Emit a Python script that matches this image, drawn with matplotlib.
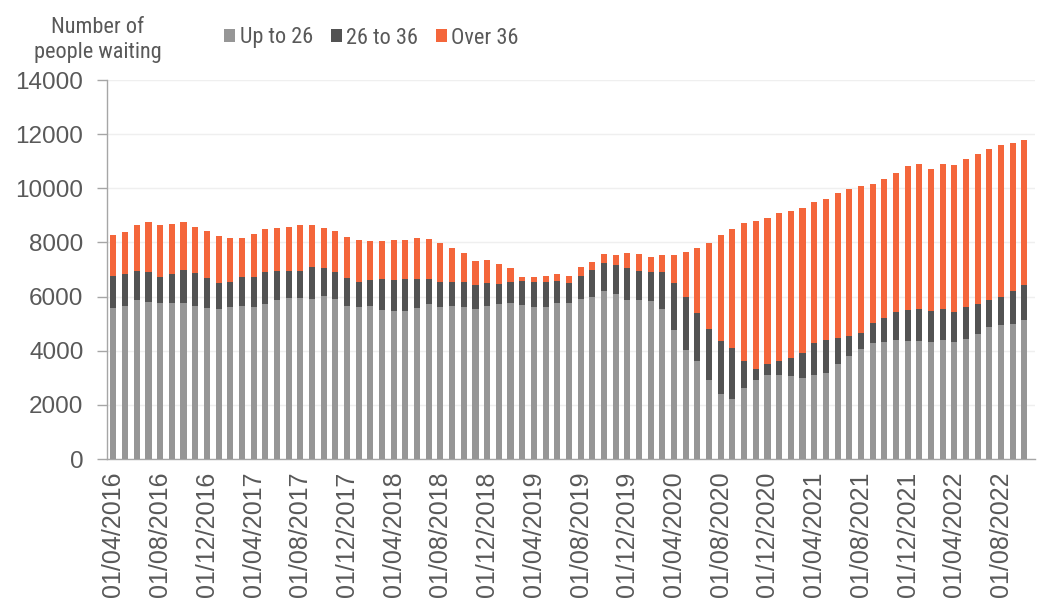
import numpy as np
import pandas as pd
import matplotlib
matplotlib.use('Agg')
import matplotlib.pyplot as plt
from matplotlib.patches import Patch

# monthly snapshots, April 2016 - October 2022
months = pd.date_range('2016-04-01', periods=79, freq='MS')

up_to_26 = [5570, 5650, 5860, 5800, 5760, 5770, 5770, 5670, 5560, 5540,
            5610, 5640, 5610, 5720, 5860, 5940, 5930, 5910, 6020, 5910,
            5640, 5610, 5640, 5520, 5460, 5460, 5570, 5720, 5610, 5650,
            5600, 5540, 5640, 5720, 5760, 5680, 5600, 5600, 5760, 5750,
            5910, 6000, 6200, 6090, 5870, 5870, 5830, 5550, 4760, 4030,
            3610, 2910, 2400, 2220, 2610, 2920, 3100, 3100, 3060, 2980,
            3100, 3170, 3500, 3800, 4060, 4290, 4330, 4410, 4350, 4350,
            4320, 4390, 4320, 4430, 4610, 4870, 4940, 4980, 5130]
from_26_to_36 = [1180, 1180, 1090, 1110, 960, 1060, 1210, 1210, 1130, 960,
                 940, 1090, 1110, 1200, 1090, 1000, 1020, 1180, 1040, 1000,
                 1060, 940, 960, 1130, 1150, 1200, 1090, 940, 940, 900,
                 940, 880, 880, 750, 790, 900, 950, 950, 830, 760,
                 860, 990, 1050, 1090, 1200, 1070, 1070, 1370, 1750, 1960,
                 1790, 1910, 1960, 1890, 1020, 410, 420, 520, 680, 950,
                 1180, 1230, 970, 730, 600, 720, 890, 1020, 1170, 1200,
                 1150, 1160, 1100, 1200, 1110, 1000, 1040, 1230, 1310]
over_36 = [1530, 1570, 1690, 1840, 1940, 1840, 1780, 1680, 1750, 1740,
           1620, 1440, 1580, 1580, 1590, 1640, 1680, 1540, 1480, 1520,
           1490, 1530, 1450, 1420, 1470, 1440, 1490, 1480, 1430, 1230,
           1070, 900, 830, 720, 520, 150, 190, 210, 230, 250,
           320, 300, 310, 370, 530, 650, 580, 630, 1040, 1640,
           2390, 3160, 3900, 4370, 5080, 5460, 5390, 5450, 5430, 5340,
           5230, 5200, 5340, 5450, 5440, 5140, 5140, 5150, 5290, 5350,
           5250, 5330, 5440, 5460, 5550, 5570, 5610, 5480, 5330]

series_names = ['Up to 26', '26 to 36', 'Over 36']
colors = ['#969696', '#535353', '#f4663b']
text_color = '#595959'
narrow = ['Roboto Condensed', 'Liberation Sans', 'DejaVu Sans']

plt.rcParams['font.family'] = ['Liberation Sans', 'DejaVu Sans']

fig = plt.figure(figsize=(10.37, 6.09), dpi=100)
ax = fig.add_axes([0.1032, 0.2463, 0.8948, 0.6223])

x = np.arange(len(months))
a = np.array(up_to_26)
b = np.array(from_26_to_36)
c = np.array(over_36)
w = 0.52
ax.bar(x, a, width=w, color=colors[0], linewidth=0, zorder=3)
ax.bar(x, b, width=w, bottom=a, color=colors[1], linewidth=0, zorder=3)
ax.bar(x, c, width=w, bottom=a + b, color=colors[2], linewidth=0, zorder=3)

ax.set_ylim(0, 14000)
ax.set_xlim(-0.55, 78.9)
ax.set_yticks(np.arange(0, 14001, 2000))
ax.yaxis.grid(True, color='#efefef', linewidth=1, zorder=0)
ax.set_axisbelow(True)

ticks = x[::4]
ax.set_xticks(ticks)
ax.set_xticklabels([months[i].strftime('%d/%m/%Y') for i in ticks],
                   rotation=90, fontsize=18, color=text_color)
ax.tick_params(axis='x', length=0, pad=9)
ax.tick_params(axis='y', length=7, width=1, color='#a6a6a6', pad=10,
               labelsize=17.5, labelcolor=text_color)

for s in ['top', 'right']:
    ax.spines[s].set_visible(False)
ax.spines['left'].set_color('#a6a6a6')
ax.spines['bottom'].set_color('#a6a6a6')
ax.spines['left'].set_linewidth(1)
ax.spines['bottom'].set_linewidth(1)

fig.text(97.5 / 1037, 1 - 40 / 609, 'Number of\npeople waiting', ha='center',
         va='center', fontsize=16, color=text_color, family=narrow,
         linespacing=1.25)

handles = [Patch(facecolor=col, edgecolor='none') for col in colors]
fig.legend(handles, series_names, loc='center', ncol=3,
           bbox_to_anchor=(371.5 / 1037, 1 - 38 / 609), frameon=False,
           prop={'family': narrow, 'size': 16}, labelcolor=text_color,
           handlelength=0.5, handleheight=0.5, handletextpad=0.2,
           columnspacing=0.8, borderpad=0)

fig.savefig('out.png', dpi=100)
